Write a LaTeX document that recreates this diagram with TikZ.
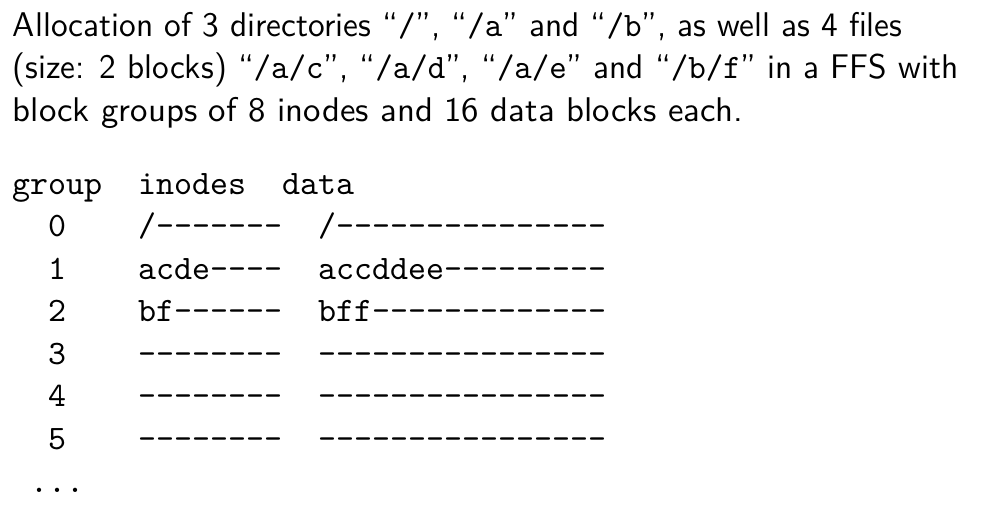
\documentclass[tikz,border=0pt]{standalone}
\usepackage{fontspec}
\usepackage{graphicx}
\begin{document}
\begin{tikzpicture}[x=1pt,y=1pt,
  prose/.style={anchor=base west,inner sep=0pt,outer sep=0pt,font=\sffamily\fontsize{10.95}{13.6}\selectfont},
  cell/.style={anchor=base west,inner sep=0pt,outer sep=0pt,font=\ttfamily\fontsize{10.95}{13.6}\selectfont}]
\newcommand\dashrun[1]{\foreach\k in {1,...,#1}{-}}
\def\cw{5.749}
\def\xo{3.9}
\useasboundingbox (0,0) rectangle (321.4,-166.5);
% prose
\node[prose] (l1) at (\xo+0.2,-11.5) {\scalebox{0.973}[1]{Allocation of 3 directories ``\texttt{/}'', ``\texttt{/a}'' and ``\texttt{/b}'', as well as 4 files}};
\node[prose] (l2) at (\xo+0.2,-25.1) {\scalebox{0.971}[1]{(size: 2 blocks) ``\texttt{/a/c}'', ``\texttt{/a/d}'', ``\texttt{/a/e}'' and ``\texttt{/b/f}'' in a FFS with}};
\node[prose] (l3) at (\xo+0.2,-38.7) {\scalebox{1.014}[1]{block groups of 8 inodes and 16 data blocks each.}};
% header
\node[cell] (hg) at (\xo,-62.0) {group};
\node[cell] (hi) at (\xo+7*\cw,-62.0) {inodes};
\node[cell] (hd) at (\xo+15*\cw,-62.0) {data};
% rows
\node[cell] (g0) at (\xo+2*\cw,-75.6) {0};
\node[cell] (i0) at (\xo+7*\cw,-75.6) {/\dashrun{7}};
\node[cell] (d0) at (\xo+17*\cw,-75.6) {/\dashrun{15}};
\node[cell] (g1) at (\xo+2*\cw,-89.2) {1};
\node[cell] (i1) at (\xo+7*\cw,-89.2) {acde\dashrun{4}};
\node[cell] (d1) at (\xo+17*\cw,-89.2) {accddee\dashrun{9}};
\node[cell] (g2) at (\xo+2*\cw,-102.8) {2};
\node[cell] (i2) at (\xo+7*\cw,-102.8) {bf\dashrun{6}};
\node[cell] (d2) at (\xo+17*\cw,-102.8) {bff\dashrun{13}};
\node[cell] (g3) at (\xo+2*\cw,-116.4) {3};
\node[cell] (i3) at (\xo+7*\cw,-116.4) {\dashrun{8}};
\node[cell] (d3) at (\xo+17*\cw,-116.4) {\dashrun{16}};
\node[cell] (g4) at (\xo+2*\cw,-130.0) {4};
\node[cell] (i4) at (\xo+7*\cw,-130.0) {\dashrun{8}};
\node[cell] (d4) at (\xo+17*\cw,-130.0) {\dashrun{16}};
\node[cell] (g5) at (\xo+2*\cw,-143.6) {5};
\node[cell] (i5) at (\xo+7*\cw,-143.6) {\dashrun{8}};
\node[cell] (d5) at (\xo+17*\cw,-143.6) {\dashrun{16}};
\node[cell] (dots) at (\xo+1*\cw,-157.2) {...};
\end{tikzpicture}
\end{document}
